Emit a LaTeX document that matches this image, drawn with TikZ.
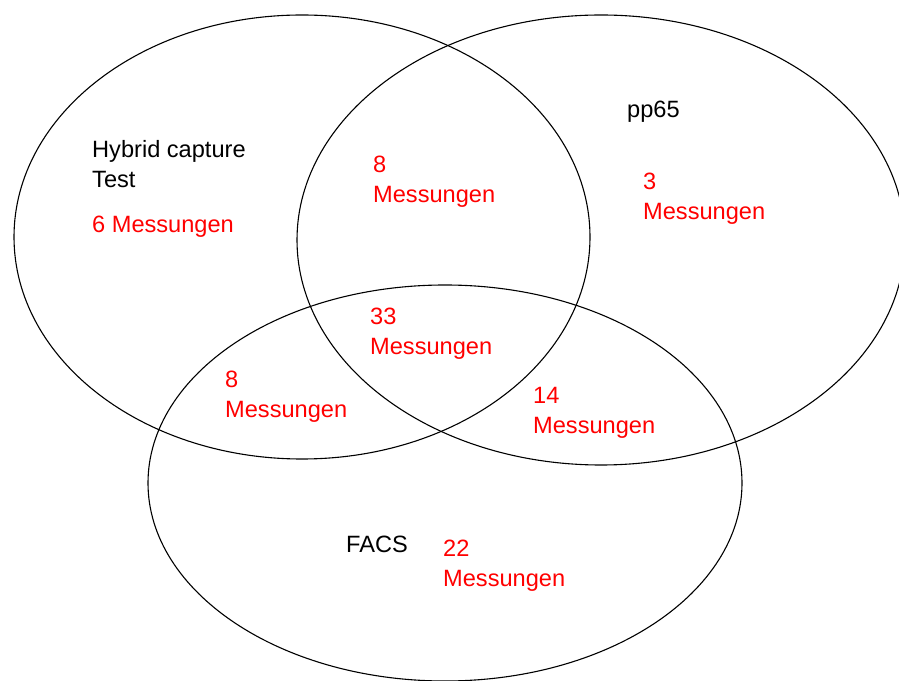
\documentclass[tikz,border=0pt]{standalone}
\usepackage{fontspec}
\setmainfont{Liberation Sans}
\usepackage{tikz}
\usetikzlibrary{calc}

\tikzset{
	menge/.style={draw=black,line width=1.1pt},
	titel/.style={anchor=base west,inner sep=0pt,align=left,text=black,font=\fontsize{23.6}{30}\selectfont},
	anzahl/.style={titel,text=red}
}

\begin{document}
\begin{tikzpicture}[x=1pt,y=1pt]
	\useasboundingbox (0,0) rectangle (899,680);
	\coordinate (hc) at (302,443);
	\coordinate (pp) at (601,440);
	\coordinate (fa) at (445,197);
	\draw[menge] (hc) ellipse [x radius=288,y radius=222];
	\draw[menge] (pp) ellipse [x radius=304,y radius=225];
	\draw[menge] (fa) ellipse [x radius=297,y radius=198];

	\node[titel] (hcname) at (92,492) {Hybrid capture\\Test};
	\node[titel] (ppname) at (627,562) {pp65};
	\node[titel] (faname) at (346,127) {FACS};

	\node[anzahl] (nhc) at (92,447) {6 Messungen};
	\node[anzahl] (npp) at (643,460) {3\\Messungen};
	\node[anzahl] (nfa) at (443,93) {22\\Messungen};
	\node[anzahl] (nhcpp) at (373,477) {8\\Messungen};
	\node[anzahl] (nhcfa) at (225,262) {8\\Messungen};
	\node[anzahl] (nppfa) at (533,246) {14\\Messungen};
	\node[anzahl] (nall) at (370,325) {33\\Messungen};
\end{tikzpicture}
\end{document}
